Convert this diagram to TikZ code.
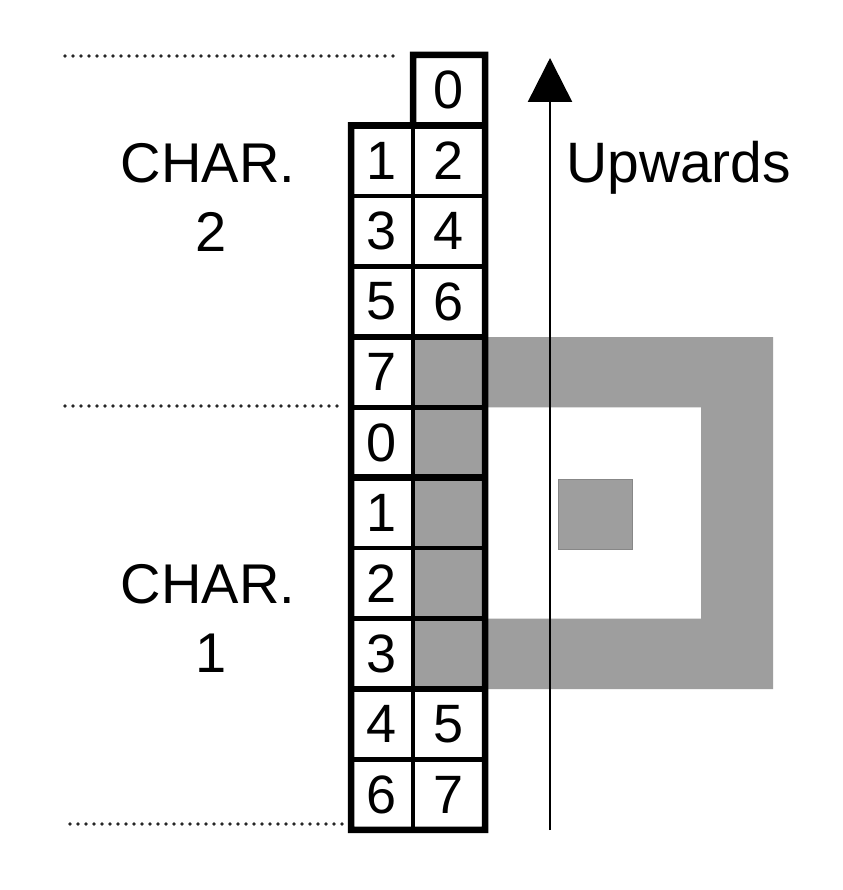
\documentclass[tikz,border=0pt]{standalone}
\usepackage{fontspec}
\setmainfont{Liberation Sans}
\usetikzlibrary{arrows.meta}
\definecolor{greyc}{RGB}{158,158,158}
\definecolor{greyedge}{RGB}{135,135,135}
\begin{document}
\begin{tikzpicture}[x=1pt,y=-1pt,
  cell/.style={draw=black,line width=4.5pt,inner sep=0pt,outer sep=0pt,font=\fontsize{54}{54}\selectfont},
  lcell/.style={cell,minimum width=62pt,minimum height=70.45pt},
  rcell/.style={cell,minimum width=72pt,minimum height=70.45pt},
  greycell/.style={rcell,fill=greyc},
  thickline/.style={line width=6.5pt,line cap=rect},
  dots/.style={line width=3.6pt,line cap=round,dash pattern=on 0pt off 8pt,black!85},
  label/.style={font=\fontsize{56}{56}\selectfont,inner sep=0pt,anchor=base},
  upstyle/.style={line width=2.5pt,-{Triangle[width=44pt,length=44pt]}}]
\useasboundingbox (0,0) rectangle (842,890);
\fill[white] (0,0) rectangle (842,890);

% grey C-shape and small square
\fill[greyc] (485,337) -- (773,337) -- (773,689) -- (485,689) -- (485,618.6)
  -- (701,618.6) -- (701,407.25) -- (485,407.25) -- cycle;
\filldraw[fill=greyc,draw=greyedge,line width=0.8pt] (558,479) rectangle (632,549);

% right column
\node[rcell] (r0) at (449,90.225) {0};
\node[rcell] (r1) at (449,160.675) {2};
\node[rcell] (r2) at (449,231.125) {4};
\node[rcell] (r3) at (449,301.575) {6};
\node[greycell] (r4) at (449,372.025) {};
\node[greycell] (r5) at (449,442.475) {};
\node[greycell] (r6) at (449,512.925) {};
\node[greycell] (r7) at (449,583.375) {};
\node[greycell] (r8) at (449,653.825) {};
\node[rcell] (r9) at (449,724.275) {5};
\node[rcell] (r10) at (449,794.725) {7};

% left column
\node[lcell] (l1) at (382,160.675) {1};
\node[lcell] (l2) at (382,231.125) {3};
\node[lcell] (l3) at (382,301.575) {5};
\node[lcell] (l4) at (382,372.025) {7};
\node[lcell] (l5) at (382,442.475) {0};
\node[lcell] (l6) at (382,512.925) {1};
\node[lcell] (l7) at (382,583.375) {2};
\node[lcell] (l8) at (382,653.825) {3};
\node[lcell] (l9) at (382,724.275) {4};
\node[lcell] (l10) at (382,794.725) {6};

% thick outline and group separators
\draw[thickline,line join=miter] (r0.north west) -- (r0.north east) -- (r10.south east)
  -- (l10.south west) -- (l1.north west) -- (r0.south west) -- cycle;
\draw[thickline] (l1.north west) -- (r1.north east);
\draw[thickline] (l4.north west) -- (r4.north east);
\draw[thickline] (l6.north west) -- (r6.north east);
\draw[thickline] (l9.north west) -- (r9.north east);

% dotted guide lines
\coordinate (d1a) at (65,56);
\coordinate (d1b) at (393,56);
\coordinate (d2a) at (65,406);
\coordinate (d2b) at (337,406);
\coordinate (d3a) at (70,824);
\coordinate (d3b) at (345,824);
\draw[dots] (d1a) -- (d1b);
\draw[dots] (d2a) -- (d2b);
\draw[dots] (d3a) -- (d3b);

% upwards arrow
\coordinate (afoot) at (550,830);
\coordinate (atip) at (550,58);
\draw[upstyle] (afoot) -- (atip);
\node[label,anchor=base west,font=\fontsize{57}{57}\selectfont] (up) at (566,183) {Upwards};

% character labels
\node[label] (c2a) at (208,183) {CHAR.};
\node[label] (c2b) at (211,252) {2};
\node[label] (c1a) at (208,603) {CHAR.};
\node[label] (c1b) at (211,672) {1};
\end{tikzpicture}
\end{document}
